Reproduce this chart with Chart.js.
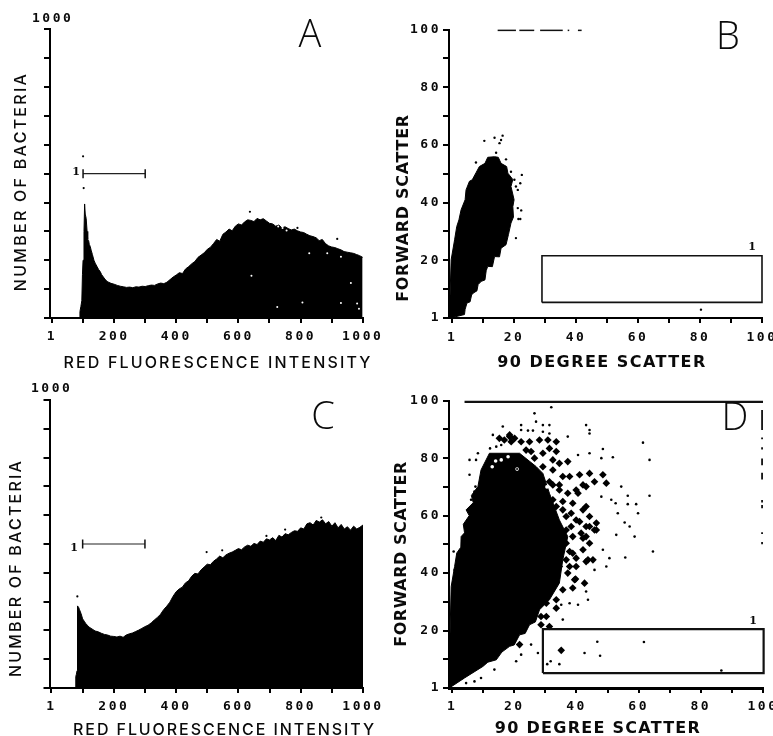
<!DOCTYPE html>
<html><head><meta charset="utf-8">
<style>html,body{margin:0;padding:0;background:#fff;width:773px;height:736px;overflow:hidden}canvas{position:absolute;display:block}</style>
<script src="https://cdn.jsdelivr.net/npm/chart.js@4/dist/chart.umd.min.js"></script>
</head><body>
<canvas id="a"></canvas><canvas id="b"></canvas><canvas id="c"></canvas><canvas id="d"></canvas>
<script>
// ---------- axis ticks ----------
const histTicks=[0,100,200,300,400,500,600,700,800,900,1000];
const histXLabels=['1','','200','','400','','600','','800','','1000'];
const histYLabels=['','','','','','','','','','','1000'];
const scatterTicks=[0,10,20,30,40,50,60,70,80,90,100];
const scatterLabels=['1','','20','','40','','60','','80','','100'];
const titleRed='RED FLUORESCENCE INTENSITY';
const titleNumber='NUMBER OF BACTERIA';
const title90='90 DEGREE SCATTER';
const titleForward='FORWARD SCATTER';
// ---------- panel A ----------
const channelsA=[0,88,90,93,96,98,100,103,105,107,110,113,115,118,120,123,126,130,135,139,145,150,155,160,170,177,180,190,200,210,220,230,240,250,260,270,280,290,300,310,320,330,340,350,360,370,380,390,400,410,420,430,440,450,460,470,480,490,500,510,520,530,540,550,560,570,580,590,600,610,620,630,640,650,660,670,680,690,700,710,720,730,740,750,760,770,780,790,800,810,820,830,840,850,860,870,880,890,900,910,920,930,940,950,960,970,980,990,1000];
const countsA=[0,0,22,40,60,150,200,300,395,360,345,300,272,268,255,248,235,220,200,190,178,168,161,150,135,127,125,120,117,113,110,108,106,107,105,108,107,110,109,112,114,113,118,121,119,124,133,142,149,157,154,170,178,188,196,210,218,226,238,245,258,272,266,290,298,308,302,318,326,322,333,340,338,334,345,340,344,336,328,326,318,322,312,316,310,305,308,302,298,296,290,285,282,278,268,272,258,250,246,244,240,236,230,228,226,224,220,216,210];
const specksA=[[642,146],[806,54],[930,52],[962,121],[725,38],[982,50],[988,32],[828,224],[886,224],[930,212],[728,317],[755,303],[742,312]];
const strayA=[[100,560],[102,450],[637,368],[790,312],[918,274]];
// ---------- panel C ----------
const channelsC=[0,76,78,80,82,83,84,87,90,95,100,105,110,115,120,130,140,150,160,170,180,190,200,210,220,230,240,250,260,270,280,290,300,310,320,330,340,350,360,370,380,390,400,410,420,430,440,450,460,470,480,490,500,510,520,530,540,550,560,570,580,590,600,610,620,630,640,650,660,670,680,690,700,710,720,730,740,750,760,770,780,790,800,810,820,830,840,850,860,870,880,890,900,910,920,930,940,950,960,970,980,990,1000];
const countsC=[0,0,40,48,60,180,285,280,272,258,240,232,224,218,212,205,198,195,190,186,184,180,179,177,180,176,184,188,191,196,201,207,213,218,226,236,245,256,272,284,298,318,334,344,350,365,372,388,398,396,410,420,430,428,440,448,458,452,462,468,472,478,484,480,490,496,492,502,498,510,506,518,514,522,512,530,524,536,532,540,546,544,556,552,570,574,566,582,576,584,570,578,562,574,556,568,552,560,548,562,552,558,566];
const strayC=[[83,318],[498,472],[548,478],[690,528],[750,550],[866,592]];
// ---------- panel B ----------
const blobB=[[-0.6,0],[4,1.2],[4.2,3],[4.8,5.2],[5.8,5.6],[6.3,8],[6.9,8.7],[8,9.4],[8.4,11.6],[9.4,12.7],[10.6,13.2],[11,16.4],[11.5,17.9],[13,17.8],[13.7,21.3],[15.3,21.2],[15.8,24.2],[17.4,25.4],[18.2,29],[19,32.9],[19.8,35],[19.6,38.6],[20,41],[19,45.6],[19.6,48],[18,50.2],[17.6,52.5],[15.8,53.6],[14.9,55.7],[13.7,55.9],[11.5,55.7],[10.6,53.6],[8.8,52.5],[7.8,50.5],[6.5,47.9],[5.6,47.4],[4.5,44.4],[4.2,41],[2.9,37.5],[2.2,34],[1.5,31.7],[0.8,27.1],[-0.3,20.2],[-0.9,0]];
const dotsB=[[10.4,61.4],[13.7,62.5],[16.3,63.2],[15.3,60.6],[15.8,61.7],[7.7,53.9],[17.4,55],[20.1,47.9],[20.6,45.6],[22.5,49.6],[22,46.7],[21.2,44.4],[21.2,38.1],[22.3,37.3],[21.4,34.3],[22,34.3],[20.6,27.7],[16.9,25.7],[14.2,57.3],[19,50.7],[80.3,2.9]];
const dashesB=[[14.7,20.6],[21.7,26.5],[28.4,35.7],[37.3,37.8],[40.6,41.8]];
const gateB=[[29,5.4],[100,5.4],[100,21.6],[29,21.6],[29,5.4]];
// ---------- panel D ----------
const blobD=[[-0.9,0],[4,3.5],[9.9,7.5],[11.5,9],[14.2,9.8],[16,12.5],[18.5,14.5],[20,15],[21.7,18.5],[23.5,19],[24.9,22],[26.8,23],[28.1,27.2],[31.3,30.7],[34.5,36.5],[35.6,44.6],[37.2,52.7],[34.5,58.5],[31.3,67.8],[29.2,74.7],[27,77.1],[21.7,81.7],[12,81.7],[9.3,75.9],[8.3,70.1],[6.2,67],[6.8,64.5],[4.5,62],[5.5,60],[3.6,57],[4,54],[2.9,52.7],[2.8,49],[1.5,47],[0.8,42.3],[-0.3,35.3],[-1.1,0]];
const dotsD=[[26.5,95.6],[31.9,97.7],[22.2,91.5],[22.2,89.8],[24.4,89.6],[26,89.6],[27,92.7],[29.2,91.5],[31.3,91.5],[29.2,89.2],[31.3,88.6],[43.1,91.5],[44.2,89.8],[44.2,88.6],[13.1,88.1],[16.3,91],[15.8,84.6],[14.2,84],[12.2,83.4],[37.2,87.5],[40.5,81.1],[44.2,81.7],[48.5,83.2],[51.7,80.3],[48,80],[61.4,85.4],[63.5,79.4],[8.3,81.7],[7.7,79.4],[5.6,79.4],[5.6,74.2],[7.5,70.1],[7.2,68.4],[6.1,65.5],[54.4,70.1],[56.5,66.9],[63.5,66.9],[48,66.6],[51.2,65.5],[52.6,64.3],[56.5,64],[59.2,64],[53.3,60.8],[59.8,60.8],[55.5,57.6],[57.1,56.2],[52.8,53.3],[58.7,52.7],[64.6,47.5],[55.7,45.4],[50.6,45.2],[49.6,42.3],[48.5,48.1],[45.8,41.1],[43.1,33.6],[43.7,30.7],[40.5,29],[37.8,29.5],[35.1,29],[35.6,23.8],[22.2,11.6],[25.4,15.1],[27.6,12.2],[20.6,9.3],[13.6,6.4],[9.3,3.5],[7.2,2.3],[4.5,1.7],[3.4,3.5],[0.5,47.5],[0.8,41.1],[1.8,45.8],[31.7,9.3],[30.6,8.3],[34.5,8.3],[42.6,12.2],[46.7,16.1],[47.6,11.2],[61.7,16],[86.6,6.1]];
const blobsD=[[18.5,87.5],[16.8,86.3],[20.1,86.9],[22.2,85.7],[24.9,85.7],[28.1,86.3],[30.8,86.3],[33.5,85.7],[31.3,83.4],[33.5,82.3],[25.4,82.3],[29.2,81.7],[32.4,79.4],[34.5,78.2],[37.2,78.8],[32.4,70.7],[34.5,68.9],[39.9,68.9],[42.1,70.7],[37.8,73.6],[41,74.2],[44.2,74.7],[48.5,74.2],[45.8,71.8],[49.6,71.3],[38.8,52.7],[43.1,52.7],[46.4,55],[43.1,56.2],[39.9,58.5],[44.2,59.7],[36.7,59.7],[33.5,63.2],[35.6,64.9],[38.8,64.3],[42.1,62],[32.4,65.5],[44.2,50.4],[42.1,48.1],[38.8,46.9],[36.7,44.6],[46.4,57.4],[38.3,56.2],[34.5,54.5],[41.5,53.9],[43.1,63.2],[45.3,44.6],[43.1,44],[39.9,42.3],[37.8,42.3],[39.4,37.7],[42.6,36.5],[38.8,34.8],[35.6,34.2],[33.5,27.8],[30.3,24.9],[28.6,24.9],[31.3,21.4],[28.6,22],[21.7,15.1],[35.1,13.1],[29.2,67.8],[31.3,71.8],[34.5,70.7],[37.2,67.8],[40.5,67.8],[43.1,70.1],[35.6,62],[38.3,60.8],[41,57.9],[44.2,56.2],[45.8,55],[42.1,52.1],[37.8,47.5],[39.9,45.2],[43.7,44.6],[34.5,42.3],[37.2,40],[39.7,37.9],[32.4,35.3],[33.5,30.7],[30.3,29.5],[27,27.2],[36.7,55],[36.7,50.4],[15.2,86.9],[18.5,88.1],[19,85.7],[23.8,82.8],[26.5,80],[29.2,77],[32.4,75.9],[35.6,73.6]];
const holesD=[[20.9,76.2],[14,79],[15.8,79.4],[12.9,77],[30.5,70],[18,80.5]];
const ringCentreD=[[20.9,76.2]];
const topLineD=[[4,99.6],[100,99.6]];
const dashesD=[[96.8,89.8],[87.2,86.6],[83.8,83],[79.9,77.5],[74.9,72.6],[65.4,64.6],[63.7,62.6],[54.2,53.6],[50.8,50]];
const gateD=[[29.2,5.2],[100.2,5.2],[100.2,20.5],[29.2,20.5],[29.2,5.2]];
// ---------- gate bars on histograms ----------
const gateBar=[[100,500],[300,500]];

const pts=a=>a.map(p=>({x:p[0],y:p[1]}));
const zip=(xs,ys)=>xs.map((x,i)=>({x,y:ys[i]}));
const histFill=(xs,ys)=>({data:zip(xs,ys),showLine:true,tension:0,fill:'origin',backgroundColor:'#000',borderColor:'#000',borderWidth:1,pointRadius:0,order:9,clip:false});
const poly=a=>({data:pts(a),showLine:true,fill:'shape',backgroundColor:'#000',borderColor:'#000',borderWidth:1,pointRadius:0,tension:0,order:9,clip:false});
const dots=(a,r,c,s,ord)=>({data:pts(a),showLine:false,pointRadius:r,pointStyle:s||'circle',pointBackgroundColor:c||'#000',pointBorderWidth:0,order:ord||(c?2:5),clip:false});
const line=(a,w)=>({data:pts(a),showLine:true,fill:false,borderColor:'#111',borderWidth:w,pointRadius:0,tension:0,order:1,clip:false});
const capped=a=>({data:pts(a),showLine:true,fill:false,borderColor:'#222',borderWidth:1.2,pointStyle:'line',rotation:90,pointRadius:4.5,pointBorderColor:'#111',pointBorderWidth:1.5,order:1,clip:false});

const textPlugin={id:'panelText',
 beforeDraw(ch){ch.ctx.letterSpacing='2.5px';},
 afterDraw(ch,args,o){
  const c=ch.ctx;
  for(const t of o.items){
   c.save();
   c.font=t.font;c.fillStyle='#0a0a0a';c.textAlign='center';c.textBaseline='middle';
   c.letterSpacing='0px';
   if(t.w){const m=c.measureText(t.text).width;c.letterSpacing=((t.w-m)/(t.text.length-1))+'px';}
   c.translate(t.x,t.y);if(t.rot)c.rotate(t.rot);
   c.fillText(t.text,0,0);
   c.restore();
  }
 }};
const tickFont={family:'"DejaVu Sans Mono"',size:13,weight:'bold'};
const thin='500 16px Inter', heavy='bold 16px "DejaVu Sans"', big='300 38px "Open Sans"', small='bold 11px "DejaVu Serif"';

function panel(id,g){
 const cv=document.getElementById(id);
 cv.style.left=g.left+'px';cv.style.top=g.top+'px';
 cv.width=g.w;cv.height=g.h;cv.style.width=g.w+'px';cv.style.height=g.h+'px';
 new Chart(cv,{type:'scatter',plugins:[textPlugin],data:{datasets:g.datasets},options:{
  responsive:false,animation:false,
  layout:{padding:{top:g.pt,right:g.w-g.pr,left:0,bottom:0}},
  plugins:{legend:{display:false},tooltip:{enabled:false},title:{display:false},panelText:{items:g.texts}},
  scales:{
   x:{type:'linear',min:g.xmin,max:g.xmax,
      afterBuildTicks:s=>{s.ticks=g.xt.map(v=>({value:v}));},
      afterFit:s=>{s.height=g.h-g.pb;},
      border:{color:'#000',width:g.xb||2},
      grid:{drawOnChartArea:false,drawTicks:true,tickLength:5,color:'#000',lineWidth:2},
      ticks:{autoSkip:false,maxRotation:0,minRotation:0,padding:g.xpad,color:'#0a0a0a',font:tickFont,callback:(v,i)=>g.xl[i]}},
   y:{type:'linear',min:g.ymin,max:g.ymax,
      afterBuildTicks:s=>{s.ticks=g.yt.map(v=>({value:v}));},
      afterFit:s=>{s.width=g.pl;},
      border:{color:'#000',width:2},
      grid:{drawOnChartArea:false,drawTicks:true,tickLength:6,color:'#000',lineWidth:2},
      ticks:{autoSkip:false,mirror:g.mirror||false,padding:g.ypad,labelOffset:g.yoff,color:'#0a0a0a',font:tickFont,callback:(v,i)=>g.yl[i]}}
  }}});
}
const U=-Math.PI/2;
panel('a',{left:0,top:0,w:386,h:370,pl:50,pr:362.7,pt:29.3,pb:318,xmin:-6.4,xmax:1000,ymin:0,ymax:1000,xt:histTicks,xl:histXLabels,yt:histTicks,yl:histYLabels,xpad:6,mirror:true,ypad:-18,yoff:-11,
 datasets:[histFill(channelsA,countsA),dots(strayA,1.1),dots(specksA,1,'#fff'),capped(gateBar)],
 texts:[{text:titleRed,x:218,y:363,font:thin,w:307},{text:titleNumber,x:21,y:181.5,rot:U,font:thin,w:217},{text:'A',x:310,y:36,font:big},{text:'1',x:76,y:172,font:small}]});
panel('b',{left:386,top:0,w:430,h:370,pl:63,pr:376,pt:29.5,pb:318,xmin:-1,xmax:100,ymin:0,ymax:100,xt:scatterTicks,xl:scatterLabels,yt:scatterTicks,yl:scatterLabels,xpad:7,ypad:2,yoff:0,
 datasets:[poly(blobB),dots(dotsB,1.2),...dashesB.map(d=>line([[d[0],99.7],[d[1],99.7]],1.5)),line(gateB,1.6)],
 texts:[{text:title90,x:216,y:363,font:heavy,w:208},{text:titleForward,x:18,y:208,rot:U,font:heavy,w:187},{text:'B',x:342,y:38,font:big},{text:'1',x:366,y:247,font:small}]});
panel('c',{left:0,top:370,w:386,h:366,pl:49.5,pr:363,pt:30,pb:318,xmin:-6.4,xmax:1000,ymin:0,ymax:1000,xt:histTicks,xl:histXLabels,yt:histTicks,yl:histYLabels,xpad:6,mirror:true,ypad:-18.5,yoff:-11,
 datasets:[histFill(channelsC,countsC),dots(strayC,1.1),capped(gateBar)],
 texts:[{text:titleRed,x:224.5,y:360,font:thin,w:301},{text:titleNumber,x:16,y:198,rot:U,font:thin,w:216},{text:'C',x:323,y:48,font:big},{text:'1',x:74,y:178,font:small}]});
panel('d',{left:386,top:370,w:430,h:366,pl:63,pr:377,pt:30.7,pb:318,xmin:-1,xmax:100,ymin:0,ymax:100,xt:scatterTicks,xl:scatterLabels,yt:scatterTicks,yl:scatterLabels,xpad:6,xb:3,ypad:2,yoff:0,
 datasets:[poly(blobD),dots(dotsD,1.3),dots(blobsD,3.8,null,'rectRot'),dots(holesD,1.8,'#fff'),dots(ringCentreD,1,null,null,1),line(topLineD,2.4),...dashesD.map(d=>line([[99.7,d[0]],[99.7,d[1]]],1.8)),line(gateD,2.2)],
 texts:[{text:title90,x:212,y:359,font:heavy,w:205},{text:titleForward,x:16,y:184,rot:U,font:heavy,w:185},{text:'D',x:349,y:49,font:big},{text:'1',x:367,y:251,font:small}]});
</script>
</body></html>
